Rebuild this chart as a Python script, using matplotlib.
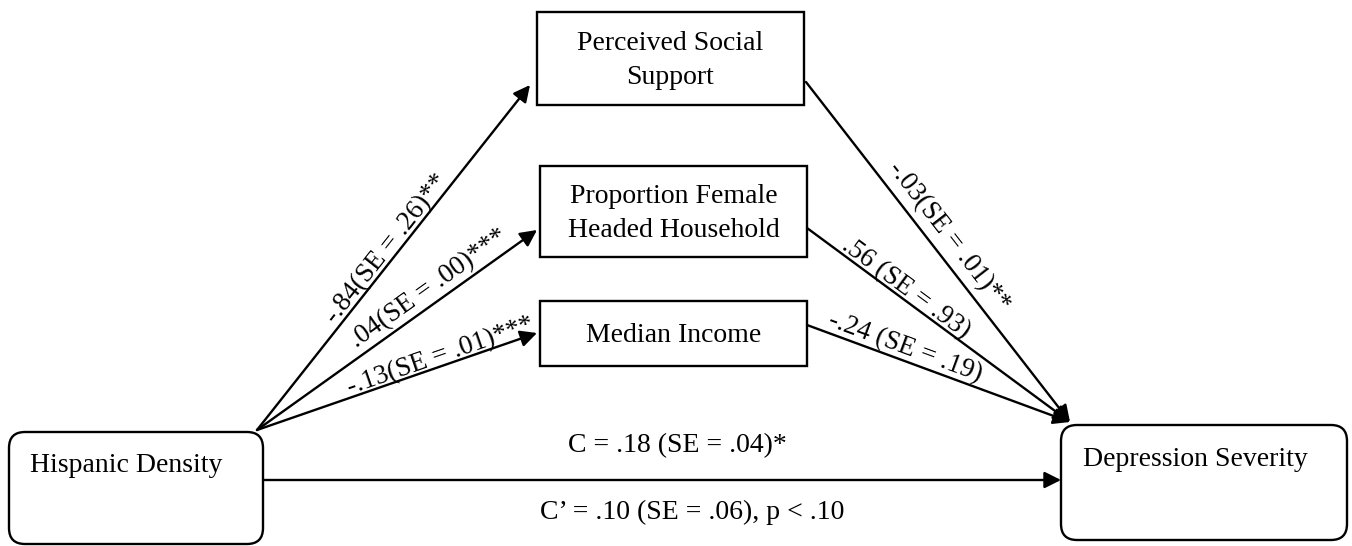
import numpy as np
import matplotlib.pyplot as plt
from matplotlib.patches import FancyBboxPatch, Rectangle

# node boxes in pixel coords: (x0, y0, x1, y1)
node_names = ["Hispanic Density", "Perceived Social\nSupport",
              "Proportion Female\nHeaded Household", "Median Income",
              "Depression Severity"]
node_boxes = [(9, 432, 263, 544), (537, 12, 804, 105), (540, 166, 807, 257),
              (540, 301, 807, 366), (1061, 425, 1347, 540)]

# path labels (a paths, b paths, total / direct effect)
a_labels = ["-.84(SE = .26)**", ".04(SE = .00)***", "-.13(SE = .01)***"]
b_labels = ["-.03(SE = .01)**", ".56 (SE = .93)", "-.24 (SE = .19)"]
c_label = "C = .18 (SE = .04)*"
c_prime_label = "C\u2019 = .10 (SE = .06), p < .10"

# arrow end points
a_start = (257, 430)
a_ends = [(530, 85), (537, 230), (537, 333)]
b_starts = [(806, 82), (807, 228), (807, 325)]
b_end = (1070, 422)
a_pos = [(223, 10.5), (222, 15), (198, 10)]
b_pos = [(210, 18), (115, 10), (100, 13)]

FONT = "Liberation Serif"


def arrow(ax, p0, p1):
    ax.annotate("", xy=p1, xytext=p0,
                arrowprops=dict(arrowstyle="-|>", lw=1.7, color="black",
                                mutation_scale=25, shrinkA=0, shrinkB=0))


def path_label(ax, p0, p1, text, t, off):
    p0 = np.array(p0, float)
    p1 = np.array(p1, float)
    d = (p1 - p0) / np.linalg.norm(p1 - p0)
    ang = np.degrees(np.arctan2(-d[1], d[0]))
    # normal pointing "up" on screen (y axis is inverted)
    up = np.array([d[1], -d[0]])
    if up[1] > 0:
        up = -up
    c = p0 + d * t + up * off
    ax.text(c[0], c[1], text, rotation=ang, rotation_mode="anchor",
            ha="center", va="center", fontsize=19.5, family=FONT)


fig = plt.figure(figsize=(13.52, 5.46), dpi=100)
ax = fig.add_axes([0, 0, 1, 1])
ax.set_xlim(0, 1352)
ax.set_ylim(546, 0)
ax.axis("off")

for i, (name, (x0, y0, x1, y1)) in enumerate(zip(node_names, node_boxes)):
    if i in (0, 4):
        ax.add_patch(FancyBboxPatch((x0, y0), x1 - x0, y1 - y0,
                                    boxstyle="round,pad=0,rounding_size=16",
                                    fill=False, lw=1.7, ec="black"))
        tx = x0 + 21 if i == 0 else x0 + 22
        ty = y0 + 34
        ax.text(tx, ty, name, ha="left", va="center", fontsize=20, family=FONT)
    else:
        ax.add_patch(Rectangle((x0, y0), x1 - x0, y1 - y0, fill=False,
                               lw=1.7, ec="black"))
        ax.text((x0 + x1) / 2, (y0 + y1) / 2 + 2, name, ha="center",
                va="center", fontsize=20, family=FONT, linespacing=1.5)

for end, lab, (t, off) in zip(a_ends, a_labels, a_pos):
    arrow(ax, a_start, end)
    path_label(ax, a_start, end, lab, t, off)

for start, lab, (t, off) in zip(b_starts, b_labels, b_pos):
    arrow(ax, start, b_end)
    path_label(ax, start, b_end, lab, t, off)

arrow(ax, (263, 480), (1061, 480))
ax.text(677, 446, c_label, ha="center", va="center", fontsize=20, family=FONT)
ax.text(692, 512, c_prime_label, ha="center", va="center", fontsize=20,
        family=FONT)

fig.savefig("out.png", dpi=100)
